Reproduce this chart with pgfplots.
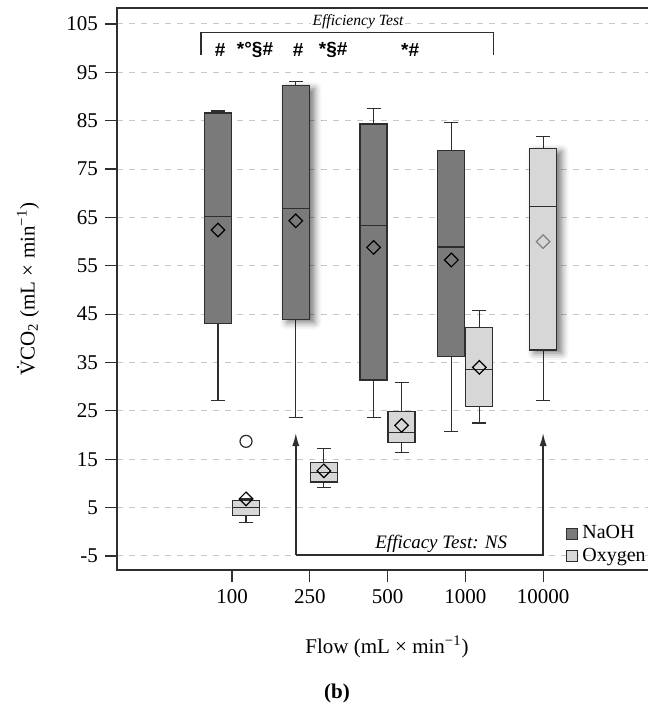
\documentclass[border=0pt]{standalone}
\usepackage{pgfplots}
\pgfplotsset{compat=1.18}
\usepgfplotslibrary{statistics}
\usetikzlibrary{arrows.meta,shadows.blur}
\usepackage{fontspec}
\setmainfont{Liberation Serif}
\newfontfamily\symfont{Liberation Sans}

\definecolor{naoh}{HTML}{7A7A7A}
\definecolor{oxy}{HTML}{D7D7D7}
\definecolor{edge}{HTML}{2E2E2E}
\definecolor{gridc}{HTML}{C8C8C8}

% one prepared box: position, lower whisker, Q1, median, Q3, upper whisker
\newcommand\naohbox[6]{\addplot[draw=edge, line width=0.6pt, fill=naoh,
  boxplot prepared={draw position=#1, lower whisker=#2, lower quartile=#3,
  median=#4, upper quartile=#5, upper whisker=#6}] coordinates {};}
\newcommand\oxybox[6]{\addplot[draw=edge, line width=0.6pt, fill=oxy,
  boxplot prepared={draw position=#1, lower whisker=#2, lower quartile=#3,
  median=#4, upper quartile=#5, upper whisker=#6}] coordinates {};}

\begin{document}
\begin{tikzpicture}
\useasboundingbox (0,0) rectangle (324pt,354pt);
\begin{axis}[
  at={(58.5pt,69pt)}, anchor=south west,
  scale only axis, width=267.5pt, height=281pt,
  xmin=-1.479, xmax=5.40, ymin=-7.9, ymax=108.3,
  axis line style={draw=edge, line width=0.75pt},
  tick align=outside, tick pos=left,
  major tick length=6pt,
  tick style={draw=edge, line width=0.6pt},
  xtick={0,1,2,3,4}, xticklabels={100,250,500,1000,10000},
  ytick={-5,5,15,25,35,45,55,65,75,85,95,105},
  yticklabels={-5,5,15,25,35,45,55,65,75,85,95,105},
  ticklabel style={font=\fontsize{10.5}{12}\selectfont},
  ymajorgrids, major grid style={draw=gridc, dashed, line width=0.5pt},
  boxplot/draw direction=y,
  boxplot/box extend=0.347,
  boxplot/whisker extend=0.18,
  legend style={draw=none, fill=none, at={(rel axis cs:0.828,0.094)}, anchor=north west,
    font=\fontsize{10}{11.5}\selectfont, row sep=-1pt, cells={anchor=west}},
  legend entries={NaOH,Oxygen},
  clip=false,
]
\addlegendimage{legend image code/.code={\draw[draw=edge,line width=0.5pt,fill=naoh] (0pt,-2.75pt) rectangle (5.5pt,2.75pt);}}
\addlegendimage{legend image code/.code={\draw[draw=edge,line width=0.5pt,fill=oxy] (0pt,-2.75pt) rectangle (5.5pt,2.75pt);}}

% NaOH boxes
\naohbox{-0.18}{27.2}{43.1}{65.2}{86.6}{87.0}
\addplot[draw=edge, line width=0.6pt, fill=naoh,
  boxplot/every box/.style={blur shadow={shadow xshift=2.5pt, shadow yshift=-1.5pt, shadow blur radius=3.5pt, shadow opacity=55}},
  boxplot prepared={draw position=0.82, lower whisker=23.7, lower quartile=43.9,
  median=66.9, upper quartile=92.2, upper whisker=93.1}] coordinates {};
\naohbox{1.82}{23.7}{31.4}{63.4}{84.3}{87.5}
\naohbox{2.82}{20.8}{36.3}{58.9}{78.8}{84.7}

% Oxygen boxes
\oxybox{0.18}{1.9}{3.4}{5.1}{6.5}{6.8}
\oxybox{1.18}{9.2}{10.3}{12.2}{14.3}{17.2}
\oxybox{2.18}{16.4}{18.5}{20.5}{24.8}{30.9}
\oxybox{3.18}{22.5}{25.9}{33.5}{42.2}{45.7}
\addplot[draw=edge, line width=0.6pt, fill=oxy,
  boxplot/every box/.style={blur shadow={shadow xshift=2.5pt, shadow yshift=-1.5pt, shadow blur radius=3.5pt, shadow opacity=55}},
  boxplot prepared={draw position=4, lower whisker=27.2, lower quartile=37.6,
  median=67.2, upper quartile=79.2, upper whisker=81.8}] coordinates {};

% means
\addplot[only marks, mark=square, mark size=2.4pt,
  mark options={rotate=45, draw=black, fill=none, line width=0.6pt}] coordinates {
  (-0.18,62.4) (0.82,64.3) (1.82,58.8) (2.82,56.2)
  (0.18,6.8) (1.18,12.6) (2.18,22.0) (3.18,34.0)};
\addplot[only marks, mark=square, mark size=2.4pt,
  mark options={rotate=45, draw=gray, fill=none, line width=0.6pt}] coordinates {(4,60.0)};

% outlier
\addplot[only marks, mark=o, mark size=3pt, mark options={draw=edge, line width=0.6pt}]
  coordinates {(0.18,18.7)};

% efficiency bracket
\draw[edge, line width=0.7pt] (axis cs:-0.40,98.6) -- (axis cs:-0.40,103.2)
  -- (axis cs:3.36,103.2) -- (axis cs:3.36,98.6);
\node[font=\itshape\fontsize{7.8}{9}\selectfont, fill=white, inner sep=1pt]
  at (axis cs:1.62,105.4) {Efficiency Test};
\begin{scope}[every node/.style={font=\symfont\bfseries\fontsize{9.5}{11}\selectfont}]
\node at (axis cs:-0.154,99.6) {\#};
\node at (axis cs:0.296,99.6) {*°§\#};
\node at (axis cs:0.849,99.6) {\#};
\node at (axis cs:1.30,99.6) {*§\#};
\node at (axis cs:2.29,99.6) {*\#};
\end{scope}

% efficacy arrows
\draw[edge, line width=0.7pt, -{Latex[length=6.5pt,width=3.6pt]}]
  (axis cs:0.82,-4.8) -- (axis cs:0.82,20.4);
\draw[edge, line width=0.7pt, -{Latex[length=6.5pt,width=3.6pt]}]
  (axis cs:0.82,-4.8) -- (axis cs:4,-4.8) -- (axis cs:4,20.4);
\node[font=\itshape\fontsize{9.5}{11}\selectfont] at (axis cs:2.69,-2.5) {Efficacy Test: NS};
\end{axis}

\node[font=\fontsize{10.5}{12}\selectfont, rotate=90] at (14pt,209.5pt)
  {\.{V}CO\textsubscript{2} (mL × min\textsuperscript{−1})};
\node[font=\fontsize{10.5}{12}\selectfont] at (193.5pt,30.5pt)
  {Flow (mL × min\textsuperscript{−1})};
\node[font=\bfseries\fontsize{10.5}{12}\selectfont] at (168.5pt,7.5pt) {(b)};
\end{tikzpicture}
\end{document}
